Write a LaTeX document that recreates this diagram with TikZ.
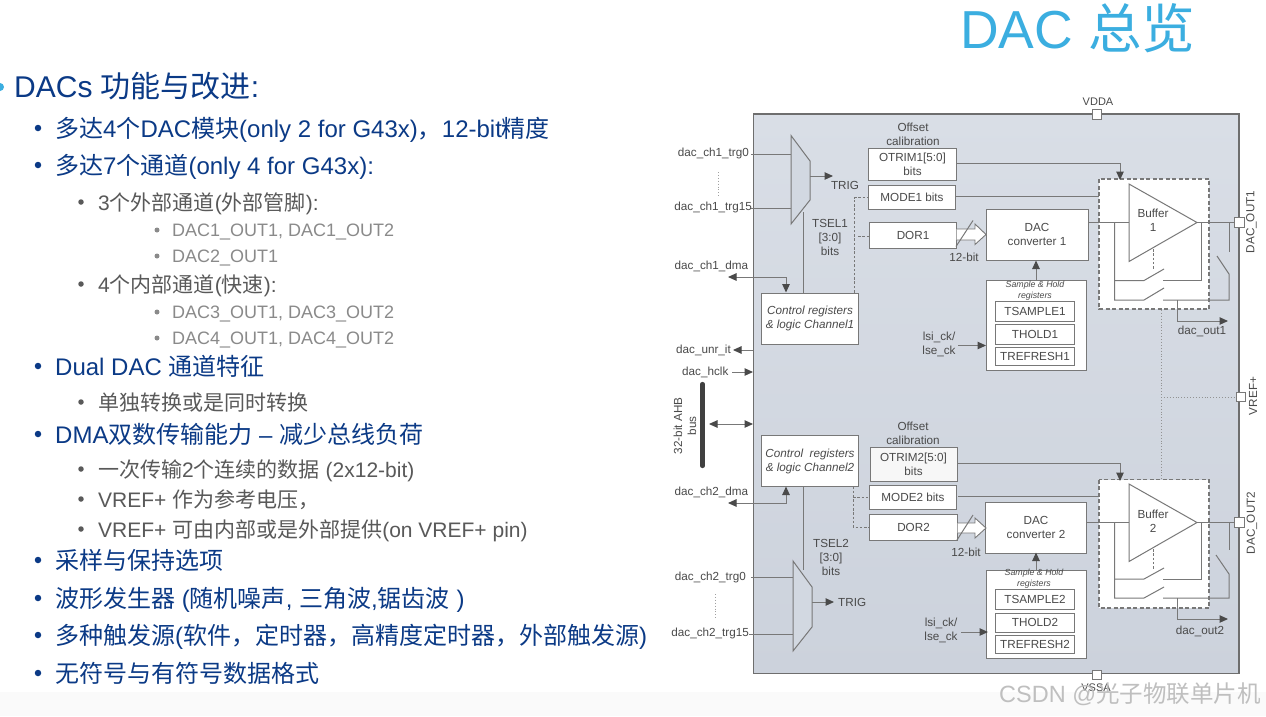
\documentclass[tikz,border=0pt]{standalone}
\usepackage{fontspec}
\setmainfont{Liberation Sans}
\newfontfamily\cjkf{Noto Sans CJK SC}
\usetikzlibrary{arrows.meta,shapes.geometric}
\definecolor{titleblue}{HTML}{3BAEE0}
\definecolor{navy}{HTML}{0B3A86}
\definecolor{lvtwo}{HTML}{595959}
\definecolor{lvthree}{HTML}{8A8A8A}
\definecolor{paneltop}{HTML}{D9DEE6}
\definecolor{panelbot}{HTML}{CCD2DC}
\definecolor{panel}{HTML}{D2D8E1}
\definecolor{edge}{HTML}{6E6E6E}
\definecolor{ln}{HTML}{787878}
\definecolor{tx}{HTML}{4A4A4A}
\XeTeXinterchartokenstate=1
\newXeTeXintercharclass\cjkclass
\makeatletter
\@tempcnta="3000
\loop\ifnum\@tempcnta<"A000 \XeTeXcharclass\@tempcnta=\cjkclass \advance\@tempcnta by 1 \repeat
\@tempcnta="FF00
\loop\ifnum\@tempcnta<"FF60 \XeTeXcharclass\@tempcnta=\cjkclass \advance\@tempcnta by 1 \repeat
\makeatother
\XeTeXinterchartoks 0 \cjkclass={\begingroup\cjkf}
\XeTeXinterchartoks 4095 \cjkclass={\begingroup\cjkf}
\XeTeXinterchartoks \cjkclass 0={\endgroup}
\XeTeXinterchartoks \cjkclass 4095={\endgroup}
\tikzset{
 x=1pt,y=-1pt,
 tl/.style={anchor=base west,inner sep=0pt,font=\fontsize{#1}{#1}\selectfont},
 ltwo/.style={tl=24,text=navy},
 lthree/.style={tl=21,text=lvtwo},
 lfour/.style={tl=18,text=lvthree},
 box/.style={draw=ln,fill=white,line width=0.9pt,inner sep=0pt,align=center,text=tx,font=\fontsize{11.7}{14}\selectfont},
 lab/.style={inner sep=0pt,text=tx,align=center,font=\fontsize{11.7}{14}\selectfont},
 pin/.style={draw=ln,fill=white,line width=0.8pt,minimum size=9.5pt,inner sep=0pt},
 wire/.style={draw=ln,line width=1pt},
 dsh/.style={draw=ln,line width=1pt,dash pattern=on 2.5pt off 1.8pt},
 arr/.style={wire,-{Triangle[length=8.5pt,width=7.5pt,color=tx]}},
 arrb/.style={wire,{Triangle[length=8.5pt,width=7.5pt,color=tx]}-{Triangle[length=8.5pt,width=7.5pt,color=tx]}},
 bul/.style={fill=#1,draw=none,circle,inner sep=0pt},
}
\begin{document}
\begin{tikzpicture}
\useasboundingbox (0,0) rectangle (1266,716);
\fill[white] (0,0) rectangle (1266,716);
\fill[black!2] (0,692) rectangle (1266,716);
% title
\node[tl=53.5,text=titleblue] (title) at (960,48) {DAC 总览};
% left text
\node[bul=titleblue,minimum size=8pt] (b0) at (0,87) {};
\node[tl=30,text=navy] (t0) at (14,97.5) {DACs 功能与改进:};
\foreach \n/\y/\by/\t in {
 a/128/137/{多达4个DAC模块(only 2 for G43x)，12-bit精度},
 b/165/174/{多达7个通道(only 4 for G43x):},
 c/366/375/{Dual DAC 通道特征},
 d/434/443/{DMA双数传输能力 – 减少总线负荷},
 e/560/569/{采样与保持选项},
 f/598/607/{波形发生器 (随机噪声, 三角波,锯齿波 )},
 g/635/644/{多种触发源(软件，定时器，高精度定时器，外部触发源)},
 h/673/682/{无符号与有符号数据格式}}{
 \node[bul=navy,minimum size=6.5pt] (p\n) at (38,\y) {};
 \node[ltwo] (q\n) at (55,\by) {\t};
}
\foreach \n/\y/\by/\t in {
 a/202/210/{3个外部通道(外部管脚):},
 b/284/292/{4个内部通道(快速):},
 c/402/410/{单独转换或是同时转换},
 d/469/477/{一次传输2个连续的数据 (2x12-bit)},
 e/499/507/{VREF+ 作为参考电压，},
 f/529/537/{VREF+ 可由内部或是外部提供(on VREF+ pin)}}{
 \node[bul=lvtwo,minimum size=5.5pt] (r\n) at (81,\y) {};
 \node[lthree] (s\n) at (98,\by) {\t};
}
\foreach \n/\y/\by/\t in {
 a/230/236/{DAC1\_OUT1, DAC1\_OUT2},
 b/256/262/{DAC2\_OUT1},
 c/312/318/{DAC3\_OUT1, DAC3\_OUT2},
 d/338/344/{DAC4\_OUT1, DAC4\_OUT2}}{
 \node[bul=lvthree,minimum size=5pt] (u\n) at (157,\y) {};
 \node[lfour] (v\n) at (172,\by) {\t};
}
% panel
\draw[draw=edge,top color=paneltop,bottom color=panelbot,line width=1.3pt] (753.7,114) rectangle (1239,673.7);
\node[pin] (vdda) at (1097,114.5) {};
\node[lab,font=\fontsize{11}{13}\selectfont] at (1098,102) (vddal) {VDDA};
\node[pin] (vssa) at (1097,675) {};
\node[lab,font=\fontsize{11}{13}\selectfont] at (1096,688) (vssal) {VSSA};
\node[pin] (out1) at (1239.5,222.5) {};
\node[pin] (out2) at (1239.5,522.5) {};
\node[pin] (vref) at (1241,397) {};
\node[lab,rotate=90] (o1l) at (1251.5,222) {DAC\_OUT1};
\node[lab,rotate=90] (o2l) at (1252,523) {DAC\_OUT2};
\node[lab,rotate=90] (vrl) at (1253,396) {VREF+};
% ---- channel 1
\coordinate (m1a) at (791,135.5);\coordinate (m1b) at (810,161);\coordinate (m1c) at (810,200);\coordinate (m1d) at (791,224);
\draw[wire,fill=panel] (m1a)--(m1b)--(m1c)--(m1d)--cycle;
\coordinate (trg10) at (751,154);\coordinate (trg115) at (751,208);
\draw[wire] (trg10)--(791,154);\draw[wire] (trg115)--(791,208);
\draw[arr] (810,176)--(833,176);
\node[lab] (trig1) at (845,185) {TRIG};
\node[lab,anchor=east] (l1) at (749,153) {dac\_ch1\_trg0};
\node[lab,anchor=east] (l2) at (752,207) {dac\_ch1\_trg15};
\draw[draw=ln!70,dotted,line width=.9pt] (718,172)--(718,197);
\node[lab,anchor=west] (l3) at (674.5,266) {dac\_ch1\_dma};
\node[box,minimum width=97pt,minimum height=51pt,font=\fontsize{11.7}{14}\itshape\selectfont] (ctl1) at (810,318.5) {Control registers\\\& logic Channel1};
\draw[arrb] (728,277)--(786,277)--(786,292.5);
\draw[wire] (803,292.5)--(803,212);
\node[lab] (ts1) at (830,237) {TSEL1\\{[3:0]}\\bits};
\draw[dsh] (854.5,292.5)--(854.5,197.5)--(868,197.5);
\draw[dsh] (858,236)--(870,236);
\node[lab] (off1) at (913,134.5) {Offset\\calibration};
\node[box,minimum width=88pt,minimum height=32pt] (ot1) at (912.5,164.5) {OTRIM1[5:0]\\bits};
\node[box,minimum width=87pt,minimum height=24pt] (mo1) at (912,197) {MODE1 bits};
\node[box,minimum width=87pt,minimum height=26pt] (dor1) at (913,235) {DOR1};
\node[lab] (bit1) at (964,257) {12-bit};
\node[box,minimum width=102pt,minimum height=51pt] (conv1) at (1037,234.5) {DAC\\converter 1};
\draw[draw=ln,fill=white,line width=.9pt] (956.5,229)--(975,229)--(975,224)--(986,234.5)--(975,244.5)--(975,240)--(956.5,240);
\draw[wire] (956,246.5)--(973,220.5);
% sample hold
\node[box,minimum width=100pt,minimum height=90pt] (sh1) at (1036,325.5) {};
\node[lab,font=\fontsize{8.8}{11}\itshape\selectfont] (shl1) at (1035,290.5) {Sample \& Hold\\registers};
\node[box,minimum width=79pt,minimum height=20pt] (ts1b) at (1035,311) {TSAMPLE1};
\node[box,minimum width=79pt,minimum height=20pt] (th1b) at (1035,334) {THOLD1};
\node[box,minimum width=79pt,minimum height=18pt] (tr1b) at (1035,356) {TREFRESH1};
\draw[arr] (1036,280.5)--(1036,260.5);
\node[lab] (lsi1) at (939,344) {lsi\_ck/\\lse\_ck};
\draw[arr] (958,345.5)--(986,345.5);
% buffer 1
\draw[fill=white,draw=none] (1099,179) rectangle (1209,309);
\draw[draw=ln,line width=1.1pt,dash pattern=on 4pt off 2.5pt] (1099,179) rectangle (1209,309);
\draw[wire] (957,163)--(1120,163);
\draw[arr] (1120,163)--(1120,180);
\draw[wire] (956,196)--(1099,196);
\draw[wire,fill=white] (1129,184)--(1197,222.5)--(1129,261.5)--cycle;
\node[lab] (buf1) at (1153,220.5) {Buffer\\1};
\draw[wire] (1088,222.5)--(1129,222.5);
\draw[wire] (1197,222.5)--(out1);
\draw[wire] (1114.5,222.5)--(1114.5,300)--(1144,300)--(1164,288);
\draw[wire] (1114.5,280.5)--(1144,280.5)--(1164,269);
\draw[wire] (1163,300)--(1229,300)--(1229,274)--(1217,256);
\draw[wire] (1229,222.5)--(1229,252);
\draw[wire] (1163,280.5)--(1201,280.5)--(1201,222.5);
\draw[dsh] (1153,249)--(1153,270);
\draw[arr] (1177.5,300)--(1177.5,321)--(1228,321);
\node[lab] (do1) at (1202,331) {dac\_out1};
% ---- vref
\draw[draw=ln!80,dotted,line width=.9pt] (1161,310)--(1161,479);
\draw[draw=ln!80,dotted,line width=.9pt] (1161,397)--(vref);
% ---- left lower
\node[lab,anchor=west] (ur) at (676,350) {dac\_unr\_it};
\draw[arr] (753,350)--(733,350);
\node[lab,anchor=west] (hc) at (682,372) {dac\_hclk};
\draw[arr] (732,372)--(753,372);
\draw[line width=4.2pt,line cap=round,draw=black!75] (702.5,384)--(702.5,466);
\node[lab,rotate=90] (ahb) at (685,426) {32-bit AHB\\bus};
\draw[arrb] (709,424)--(753,424);
% ---- channel 2
\node[box,minimum width=97pt,minimum height=51pt,font=\fontsize{11.7}{14}\itshape\selectfont] (ctl2) at (810,461) {Control \ registers\\\& logic Channel2};
\node[lab,anchor=west] (l4) at (674.5,492) {dac\_ch2\_dma};
\draw[arrb] (728,503)--(786,503)--(786,486.5);
\coordinate (m2a) at (793,561);\coordinate (m2b) at (812,587);\coordinate (m2c) at (812,627);\coordinate (m2d) at (793,651);
\draw[wire] (803,486.5)--(803,570);
\draw[wire,fill=panel] (m2a)--(m2b)--(m2c)--(m2d)--cycle;
\draw[wire] (751,577)--(793,577);\draw[wire] (749,634)--(793,634);
\draw[arr] (812,602)--(834,602);
\node[lab,anchor=west] (trig2) at (838,602) {TRIG};
\node[lab,anchor=east] (l5) at (746,577) {dac\_ch2\_trg0};
\node[lab,anchor=east] (l6) at (749,633) {dac\_ch2\_trg15};
\draw[draw=ln!70,dotted,line width=.9pt] (715,594)--(715,619);
\node[lab] (ts2) at (831,557) {TSEL2\\{[3:0]}\\bits};
\draw[dsh] (853,486.5)--(853,527)--(869,527);
\draw[dsh] (853,497)--(869,497);
\node[lab] (off2) at (913,433) {Offset\\calibration};
\node[box,minimum width=87pt,minimum height=34pt,fill=black!3] (ot2) at (913.5,464) {OTRIM2[5:0]\\bits};
\node[box,minimum width=87pt,minimum height=24pt] (mo2) at (913,497) {MODE2 bits};
\node[box,minimum width=88pt,minimum height=26pt] (dor2) at (913.5,527) {DOR2};
\node[lab] (bit2) at (966,552) {12-bit};
\node[box,minimum width=101pt,minimum height=51pt] (conv2) at (1036,527.5) {DAC\\converter 2};
\draw[draw=ln,fill=white,line width=.9pt] (957.5,523)--(975,523)--(975,518)--(986,528)--(975,538)--(975,533)--(957.5,533);
\draw[wire] (957,540)--(973,515);
\node[box,minimum width=100pt,minimum height=88pt] (sh2) at (1036,614.5) {};
\node[lab,font=\fontsize{8.8}{11}\itshape\selectfont] (shl2) at (1034,579) {Sample \& Hold\\registers};
\node[box,minimum width=79pt,minimum height=20pt] (ts2b) at (1035,599.5) {TSAMPLE2};
\node[box,minimum width=79pt,minimum height=19pt] (th2b) at (1035,622.5) {THOLD2};
\node[box,minimum width=79pt,minimum height=18pt] (tr2b) at (1035,644.5) {TREFRESH2};
\draw[arr] (1036,571)--(1036,552.5);
\node[lab] (lsi2) at (941,630) {lsi\_ck/\\lse\_ck};
\draw[arr] (961,632)--(988,632);
\draw[fill=white,draw=none] (1099,479.5) rectangle (1209,608);
\draw[draw=ln,line width=1.1pt,dash pattern=on 4pt off 2.5pt] (1099,479.5) rectangle (1209,608);
\draw[wire] (957,463)--(1120,463);
\draw[arr] (1120,463)--(1120,481);
\draw[wire] (958,496)--(1099,496);
\draw[wire,fill=white] (1129,484)--(1197,522.5)--(1129,561.5)--cycle;
\node[lab] (buf2) at (1153,521) {Buffer\\2};
\draw[wire] (1087,522.5)--(1129,522.5);
\draw[wire] (1197,522.5)--(out2);
\draw[wire] (1114.5,522.5)--(1114.5,598)--(1144,598)--(1164,587);
\draw[wire] (1114.5,579)--(1144,579)--(1164,568);
\draw[wire] (1163,598)--(1229,598)--(1229,574)--(1216,555);
\draw[wire] (1229,522.5)--(1229,550);
\draw[wire] (1163,579)--(1201,579)--(1201,522.5);
\draw[dsh] (1153,549)--(1153,570);
\draw[arr] (1177.5,598)--(1177.5,619)--(1228,619);
\node[lab] (do2) at (1200,631) {dac\_out2};
% watermark
\node[tl=23.5,text=black!25] (wm) at (999,702) {CSDN @光子物联单片机};
\end{tikzpicture}
\end{document}
